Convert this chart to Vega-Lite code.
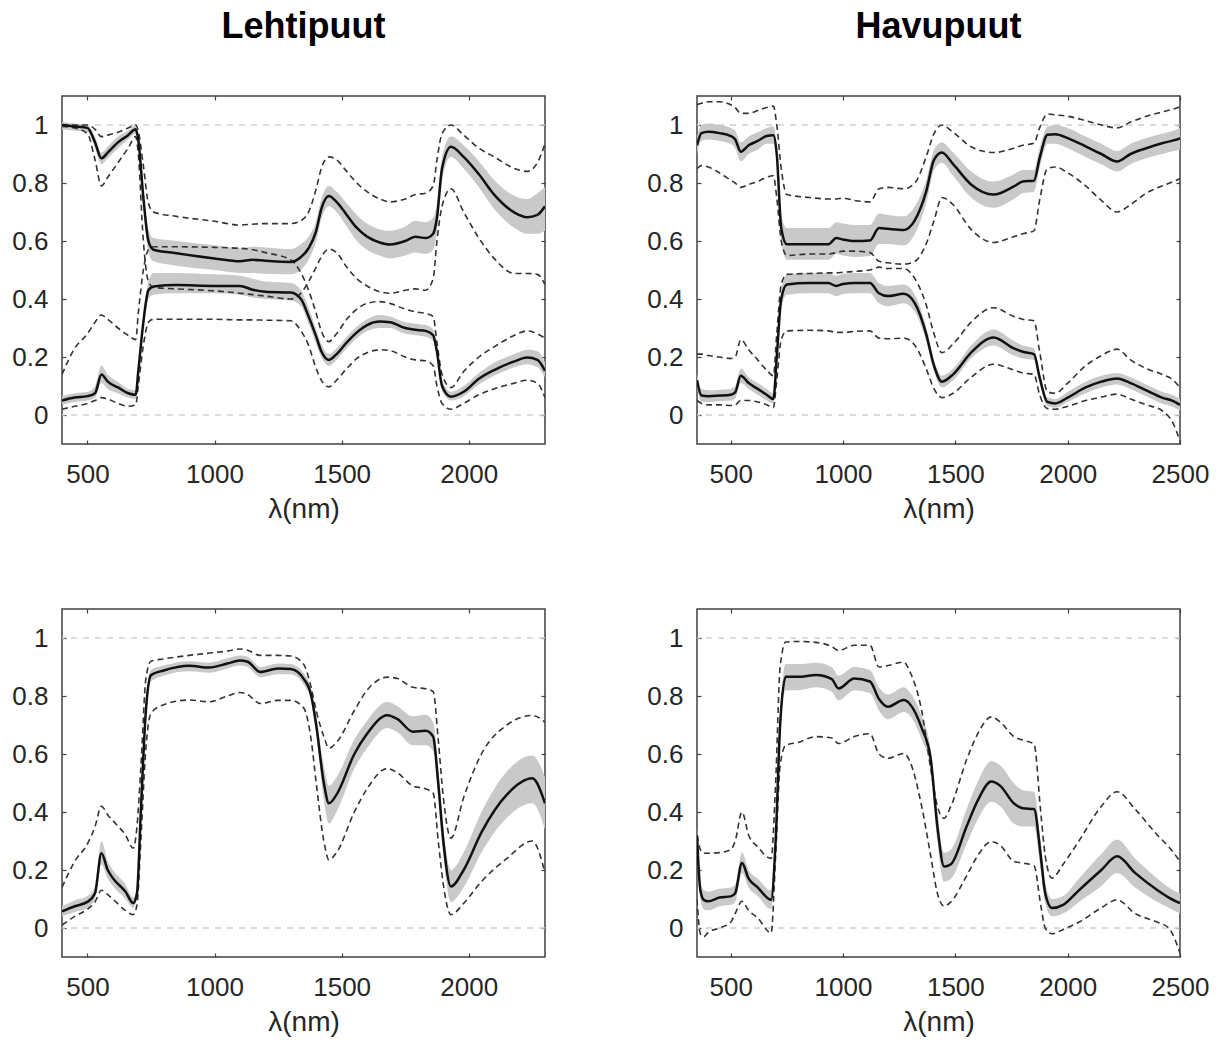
{
  "$schema": "https://vega.github.io/schema/vega-lite/v6.json",
  "background": "white",
  "padding": {"left": 11, "top": 8, "right": 5, "bottom": 5},
  "config": {
    "view": {"stroke": "#404040", "strokeWidth": 1.5},
    "axis": {"domain": false, "grid": false, "tickSize": -4, "tickColor": "#404040", "tickWidth": 1.2, "labelFont": "Liberation Sans", "labelFontSize": 26, "labelColor": "#262626", "labelFlush": false, "labelOverlap": false, "titleFont": "Liberation Sans", "titleFontSize": 28, "titleFontWeight": "normal", "titleColor": "#262626"},
    "axisX": {"labelPadding": 21, "format": "d", "titlePadding": 8},
    "axisY": {"labelPadding": 18, "format": "~g"},
    "title": {"font": "Liberation Sans", "fontSize": 36, "fontWeight": "bold", "color": "#000000", "baseline": "alphabetic", "offset": 49, "anchor": "middle"}
  },
  "datasets": {
    "d": [
      {"p":"TL","c":"u","x":400,"m":1.0,"bl":0.985,"bh":1.01,"dl":0.995,"dh":1.0},
      {"p":"TL","c":"u","x":450,"m":0.995,"bl":0.98,"bh":1.005,"dl":0.99,"dh":1.0},
      {"p":"TL","c":"u","x":500,"m":0.99,"bl":0.975,"bh":1.0,"dl":0.97,"dh":1.0},
      {"p":"TL","c":"u","x":530,"m":0.94,"bl":0.92,"bh":0.96,"dl":0.88,"dh":0.985},
      {"p":"TL","c":"u","x":555,"m":0.885,"bl":0.865,"bh":0.905,"dl":0.79,"dh":0.96},
      {"p":"TL","c":"u","x":580,"m":0.905,"bl":0.885,"bh":0.925,"dl":0.82,"dh":0.965},
      {"p":"TL","c":"u","x":620,"m":0.94,"bl":0.92,"bh":0.96,"dl":0.87,"dh":0.975},
      {"p":"TL","c":"u","x":660,"m":0.965,"bl":0.95,"bh":0.98,"dl":0.92,"dh":0.99},
      {"p":"TL","c":"u","x":690,"m":0.985,"bl":0.97,"bh":1.0,"dl":0.96,"dh":1.0},
      {"p":"TL","c":"u","x":700,"m":0.95,"bl":0.93,"bh":0.97,"dl":0.9,"dh":0.98},
      {"p":"TL","c":"u","x":720,"m":0.75,"bl":0.72,"bh":0.78,"dl":0.6,"dh":0.86},
      {"p":"TL","c":"u","x":740,"m":0.6,"bl":0.56,"bh":0.64,"dl":0.46,"dh":0.73},
      {"p":"TL","c":"u","x":760,"m":0.57,"bl":0.53,"bh":0.61,"dl":0.44,"dh":0.7},
      {"p":"TL","c":"u","x":850,"m":0.558,"bl":0.515,"bh":0.6,"dl":0.435,"dh":0.685},
      {"p":"TL","c":"u","x":1000,"m":0.54,"bl":0.5,"bh":0.585,"dl":0.428,"dh":0.668},
      {"p":"TL","c":"u","x":1100,"m":0.53,"bl":0.49,"bh":0.575,"dl":0.42,"dh":0.655},
      {"p":"TL","c":"u","x":1150,"m":0.535,"bl":0.49,"bh":0.58,"dl":0.415,"dh":0.658},
      {"p":"TL","c":"u","x":1200,"m":0.532,"bl":0.487,"bh":0.578,"dl":0.41,"dh":0.66},
      {"p":"TL","c":"u","x":1300,"m":0.528,"bl":0.485,"bh":0.572,"dl":0.4,"dh":0.66},
      {"p":"TL","c":"u","x":1340,"m":0.545,"bl":0.5,"bh":0.59,"dl":0.42,"dh":0.67},
      {"p":"TL","c":"u","x":1370,"m":0.575,"bl":0.535,"bh":0.615,"dl":0.46,"dh":0.7},
      {"p":"TL","c":"u","x":1400,"m":0.635,"bl":0.6,"bh":0.67,"dl":0.51,"dh":0.78},
      {"p":"TL","c":"u","x":1420,"m":0.71,"bl":0.675,"bh":0.745,"dl":0.545,"dh":0.85},
      {"p":"TL","c":"u","x":1450,"m":0.755,"bl":0.72,"bh":0.79,"dl":0.572,"dh":0.89},
      {"p":"TL","c":"u","x":1480,"m":0.735,"bl":0.7,"bh":0.77,"dl":0.56,"dh":0.88},
      {"p":"TL","c":"u","x":1520,"m":0.69,"bl":0.65,"bh":0.73,"dl":0.51,"dh":0.84},
      {"p":"TL","c":"u","x":1560,"m":0.645,"bl":0.6,"bh":0.69,"dl":0.47,"dh":0.8},
      {"p":"TL","c":"u","x":1600,"m":0.615,"bl":0.57,"bh":0.66,"dl":0.445,"dh":0.77},
      {"p":"TL","c":"u","x":1650,"m":0.595,"bl":0.55,"bh":0.64,"dl":0.425,"dh":0.745},
      {"p":"TL","c":"u","x":1690,"m":0.588,"bl":0.54,"bh":0.635,"dl":0.42,"dh":0.735},
      {"p":"TL","c":"u","x":1750,"m":0.6,"bl":0.55,"bh":0.65,"dl":0.43,"dh":0.745},
      {"p":"TL","c":"u","x":1790,"m":0.615,"bl":0.56,"bh":0.67,"dl":0.435,"dh":0.76},
      {"p":"TL","c":"u","x":1830,"m":0.61,"bl":0.555,"bh":0.665,"dl":0.43,"dh":0.765},
      {"p":"TL","c":"u","x":1860,"m":0.625,"bl":0.57,"bh":0.68,"dl":0.47,"dh":0.79},
      {"p":"TL","c":"u","x":1875,"m":0.68,"bl":0.63,"bh":0.73,"dl":0.6,"dh":0.88},
      {"p":"TL","c":"u","x":1895,"m":0.85,"bl":0.81,"bh":0.89,"dl":0.72,"dh":0.97},
      {"p":"TL","c":"u","x":1930,"m":0.925,"bl":0.89,"bh":0.96,"dl":0.78,"dh":1.0},
      {"p":"TL","c":"u","x":1980,"m":0.89,"bl":0.85,"bh":0.93,"dl":0.7,"dh":0.965},
      {"p":"TL","c":"u","x":2040,"m":0.83,"bl":0.785,"bh":0.875,"dl":0.61,"dh":0.92},
      {"p":"TL","c":"u","x":2100,"m":0.76,"bl":0.71,"bh":0.81,"dl":0.54,"dh":0.89},
      {"p":"TL","c":"u","x":2180,"m":0.698,"bl":0.645,"bh":0.755,"dl":0.488,"dh":0.85},
      {"p":"TL","c":"u","x":2230,"m":0.682,"bl":0.625,"bh":0.745,"dl":0.488,"dh":0.84},
      {"p":"TL","c":"u","x":2270,"m":0.69,"bl":0.625,"bh":0.765,"dl":0.485,"dh":0.87},
      {"p":"TL","c":"u","x":2300,"m":0.72,"bl":0.635,"bh":0.785,"dl":0.45,"dh":0.935},

      {"p":"TL","c":"l","x":400,"m":0.05,"bl":0.035,"bh":0.065,"dl":0.02,"dh":0.14},
      {"p":"TL","c":"l","x":450,"m":0.06,"bl":0.045,"bh":0.075,"dl":0.03,"dh":0.23},
      {"p":"TL","c":"l","x":500,"m":0.065,"bl":0.05,"bh":0.08,"dl":0.04,"dh":0.28},
      {"p":"TL","c":"l","x":530,"m":0.075,"bl":0.06,"bh":0.1,"dl":0.05,"dh":0.32},
      {"p":"TL","c":"l","x":555,"m":0.14,"bl":0.11,"bh":0.17,"dl":0.06,"dh":0.345},
      {"p":"TL","c":"l","x":580,"m":0.115,"bl":0.09,"bh":0.14,"dl":0.055,"dh":0.33},
      {"p":"TL","c":"l","x":620,"m":0.095,"bl":0.075,"bh":0.115,"dl":0.04,"dh":0.3},
      {"p":"TL","c":"l","x":660,"m":0.075,"bl":0.06,"bh":0.09,"dl":0.03,"dh":0.275},
      {"p":"TL","c":"l","x":690,"m":0.07,"bl":0.055,"bh":0.085,"dl":0.035,"dh":0.26},
      {"p":"TL","c":"l","x":700,"m":0.15,"bl":0.13,"bh":0.17,"dl":0.1,"dh":0.35},
      {"p":"TL","c":"l","x":720,"m":0.32,"bl":0.29,"bh":0.35,"dl":0.24,"dh":0.5},
      {"p":"TL","c":"l","x":740,"m":0.43,"bl":0.4,"bh":0.46,"dl":0.32,"dh":0.57},
      {"p":"TL","c":"l","x":760,"m":0.443,"bl":0.415,"bh":0.49,"dl":0.33,"dh":0.58},
      {"p":"TL","c":"l","x":850,"m":0.448,"bl":0.42,"bh":0.49,"dl":0.33,"dh":0.58},
      {"p":"TL","c":"l","x":1000,"m":0.445,"bl":0.42,"bh":0.485,"dl":0.33,"dh":0.578},
      {"p":"TL","c":"l","x":1100,"m":0.445,"bl":0.415,"bh":0.48,"dl":0.328,"dh":0.575},
      {"p":"TL","c":"l","x":1150,"m":0.432,"bl":0.405,"bh":0.47,"dl":0.328,"dh":0.57},
      {"p":"TL","c":"l","x":1200,"m":0.425,"bl":0.4,"bh":0.46,"dl":0.327,"dh":0.56},
      {"p":"TL","c":"l","x":1300,"m":0.422,"bl":0.395,"bh":0.455,"dl":0.325,"dh":0.535},
      {"p":"TL","c":"l","x":1340,"m":0.4,"bl":0.375,"bh":0.43,"dl":0.29,"dh":0.49},
      {"p":"TL","c":"l","x":1370,"m":0.34,"bl":0.315,"bh":0.37,"dl":0.24,"dh":0.43},
      {"p":"TL","c":"l","x":1400,"m":0.27,"bl":0.245,"bh":0.295,"dl":0.16,"dh":0.35},
      {"p":"TL","c":"l","x":1420,"m":0.22,"bl":0.2,"bh":0.245,"dl":0.12,"dh":0.29},
      {"p":"TL","c":"l","x":1450,"m":0.19,"bl":0.17,"bh":0.21,"dl":0.097,"dh":0.253},
      {"p":"TL","c":"l","x":1480,"m":0.21,"bl":0.19,"bh":0.23,"dl":0.12,"dh":0.28},
      {"p":"TL","c":"l","x":1520,"m":0.25,"bl":0.23,"bh":0.27,"dl":0.16,"dh":0.33},
      {"p":"TL","c":"l","x":1560,"m":0.285,"bl":0.265,"bh":0.305,"dl":0.195,"dh":0.365},
      {"p":"TL","c":"l","x":1600,"m":0.31,"bl":0.29,"bh":0.33,"dl":0.215,"dh":0.385},
      {"p":"TL","c":"l","x":1650,"m":0.322,"bl":0.3,"bh":0.345,"dl":0.225,"dh":0.391},
      {"p":"TL","c":"l","x":1690,"m":0.32,"bl":0.3,"bh":0.34,"dl":0.222,"dh":0.385},
      {"p":"TL","c":"l","x":1750,"m":0.3,"bl":0.28,"bh":0.32,"dl":0.2,"dh":0.365},
      {"p":"TL","c":"l","x":1790,"m":0.294,"bl":0.275,"bh":0.315,"dl":0.19,"dh":0.356},
      {"p":"TL","c":"l","x":1830,"m":0.29,"bl":0.27,"bh":0.31,"dl":0.187,"dh":0.35},
      {"p":"TL","c":"l","x":1860,"m":0.275,"bl":0.255,"bh":0.295,"dl":0.17,"dh":0.34},
      {"p":"TL","c":"l","x":1875,"m":0.218,"bl":0.2,"bh":0.24,"dl":0.1,"dh":0.25},
      {"p":"TL","c":"l","x":1895,"m":0.1,"bl":0.085,"bh":0.12,"dl":0.04,"dh":0.14},
      {"p":"TL","c":"l","x":1930,"m":0.063,"bl":0.05,"bh":0.08,"dl":0.02,"dh":0.095},
      {"p":"TL","c":"l","x":1980,"m":0.08,"bl":0.065,"bh":0.1,"dl":0.04,"dh":0.15},
      {"p":"TL","c":"l","x":2040,"m":0.125,"bl":0.105,"bh":0.145,"dl":0.07,"dh":0.2},
      {"p":"TL","c":"l","x":2100,"m":0.155,"bl":0.135,"bh":0.18,"dl":0.09,"dh":0.235},
      {"p":"TL","c":"l","x":2180,"m":0.185,"bl":0.165,"bh":0.21,"dl":0.11,"dh":0.275},
      {"p":"TL","c":"l","x":2230,"m":0.198,"bl":0.175,"bh":0.225,"dl":0.12,"dh":0.29},
      {"p":"TL","c":"l","x":2270,"m":0.19,"bl":0.165,"bh":0.22,"dl":0.11,"dh":0.28},
      {"p":"TL","c":"l","x":2300,"m":0.152,"bl":0.13,"bh":0.18,"dl":0.06,"dh":0.265},

      {"p":"TR","c":"u","x":350,"m":0.93,"bl":0.9,"bh":0.96,"dl":0.85,"dh":1.07},
      {"p":"TR","c":"u","x":370,"m":0.972,"bl":0.945,"bh":1.0,"dl":0.86,"dh":1.075},
      {"p":"TR","c":"u","x":400,"m":0.977,"bl":0.95,"bh":1.005,"dl":0.855,"dh":1.08},
      {"p":"TR","c":"u","x":450,"m":0.972,"bl":0.945,"bh":1.0,"dl":0.835,"dh":1.08},
      {"p":"TR","c":"u","x":500,"m":0.962,"bl":0.935,"bh":0.99,"dl":0.81,"dh":1.07},
      {"p":"TR","c":"u","x":520,"m":0.95,"bl":0.92,"bh":0.98,"dl":0.8,"dh":1.06},
      {"p":"TR","c":"u","x":545,"m":0.908,"bl":0.875,"bh":0.94,"dl":0.785,"dh":1.04},
      {"p":"TR","c":"u","x":580,"m":0.93,"bl":0.9,"bh":0.96,"dl":0.795,"dh":1.04},
      {"p":"TR","c":"u","x":620,"m":0.945,"bl":0.915,"bh":0.975,"dl":0.805,"dh":1.05},
      {"p":"TR","c":"u","x":660,"m":0.962,"bl":0.935,"bh":0.99,"dl":0.82,"dh":1.06},
      {"p":"TR","c":"u","x":690,"m":0.965,"bl":0.935,"bh":0.995,"dl":0.825,"dh":1.065},
      {"p":"TR","c":"u","x":705,"m":0.9,"bl":0.87,"bh":0.93,"dl":0.75,"dh":1.0},
      {"p":"TR","c":"u","x":725,"m":0.645,"bl":0.6,"bh":0.69,"dl":0.6,"dh":0.85},
      {"p":"TR","c":"u","x":750,"m":0.589,"bl":0.535,"bh":0.645,"dl":0.55,"dh":0.76},
      {"p":"TR","c":"u","x":850,"m":0.589,"bl":0.535,"bh":0.645,"dl":0.555,"dh":0.75},
      {"p":"TR","c":"u","x":935,"m":0.589,"bl":0.535,"bh":0.645,"dl":0.555,"dh":0.745},
      {"p":"TR","c":"u","x":970,"m":0.61,"bl":0.555,"bh":0.665,"dl":0.56,"dh":0.745},
      {"p":"TR","c":"u","x":1000,"m":0.605,"bl":0.55,"bh":0.66,"dl":0.565,"dh":0.748},
      {"p":"TR","c":"u","x":1050,"m":0.6,"bl":0.545,"bh":0.655,"dl":0.565,"dh":0.74},
      {"p":"TR","c":"u","x":1120,"m":0.602,"bl":0.548,"bh":0.655,"dl":0.56,"dh":0.735},
      {"p":"TR","c":"u","x":1160,"m":0.645,"bl":0.59,"bh":0.695,"dl":0.53,"dh":0.78},
      {"p":"TR","c":"u","x":1200,"m":0.642,"bl":0.59,"bh":0.69,"dl":0.525,"dh":0.785},
      {"p":"TR","c":"u","x":1270,"m":0.638,"bl":0.585,"bh":0.685,"dl":0.52,"dh":0.78},
      {"p":"TR","c":"u","x":1320,"m":0.672,"bl":0.625,"bh":0.72,"dl":0.53,"dh":0.8},
      {"p":"TR","c":"u","x":1370,"m":0.77,"bl":0.73,"bh":0.81,"dl":0.59,"dh":0.89},
      {"p":"TR","c":"u","x":1405,"m":0.88,"bl":0.845,"bh":0.915,"dl":0.67,"dh":0.97},
      {"p":"TR","c":"u","x":1440,"m":0.905,"bl":0.87,"bh":0.94,"dl":0.75,"dh":1.0},
      {"p":"TR","c":"u","x":1490,"m":0.865,"bl":0.825,"bh":0.905,"dl":0.725,"dh":0.975},
      {"p":"TR","c":"u","x":1570,"m":0.795,"bl":0.75,"bh":0.84,"dl":0.64,"dh":0.925},
      {"p":"TR","c":"u","x":1670,"m":0.76,"bl":0.715,"bh":0.805,"dl":0.595,"dh":0.905},
      {"p":"TR","c":"u","x":1760,"m":0.788,"bl":0.745,"bh":0.83,"dl":0.615,"dh":0.92},
      {"p":"TR","c":"u","x":1800,"m":0.805,"bl":0.765,"bh":0.845,"dl":0.625,"dh":0.93},
      {"p":"TR","c":"u","x":1850,"m":0.808,"bl":0.77,"bh":0.845,"dl":0.635,"dh":0.937},
      {"p":"TR","c":"u","x":1875,"m":0.885,"bl":0.85,"bh":0.92,"dl":0.74,"dh":0.99},
      {"p":"TR","c":"u","x":1910,"m":0.966,"bl":0.935,"bh":0.995,"dl":0.85,"dh":1.038},
      {"p":"TR","c":"u","x":1945,"m":0.968,"bl":0.935,"bh":1.0,"dl":0.855,"dh":1.035},
      {"p":"TR","c":"u","x":2000,"m":0.955,"bl":0.92,"bh":0.99,"dl":0.835,"dh":1.03},
      {"p":"TR","c":"u","x":2080,"m":0.926,"bl":0.89,"bh":0.96,"dl":0.79,"dh":1.015},
      {"p":"TR","c":"u","x":2150,"m":0.9,"bl":0.865,"bh":0.935,"dl":0.74,"dh":1.0},
      {"p":"TR","c":"u","x":2220,"m":0.874,"bl":0.84,"bh":0.91,"dl":0.7,"dh":0.99},
      {"p":"TR","c":"u","x":2280,"m":0.9,"bl":0.865,"bh":0.935,"dl":0.725,"dh":1.01},
      {"p":"TR","c":"u","x":2350,"m":0.92,"bl":0.885,"bh":0.955,"dl":0.765,"dh":1.03},
      {"p":"TR","c":"u","x":2420,"m":0.937,"bl":0.9,"bh":0.97,"dl":0.79,"dh":1.045},
      {"p":"TR","c":"u","x":2470,"m":0.947,"bl":0.91,"bh":0.98,"dl":0.805,"dh":1.055},
      {"p":"TR","c":"u","x":2500,"m":0.954,"bl":0.915,"bh":0.99,"dl":0.815,"dh":1.063},

      {"p":"TR","c":"l","x":350,"m":0.12,"bl":0.095,"bh":0.145,"dl":0.05,"dh":0.21},
      {"p":"TR","c":"l","x":370,"m":0.067,"bl":0.045,"bh":0.09,"dl":0.04,"dh":0.21},
      {"p":"TR","c":"l","x":400,"m":0.065,"bl":0.045,"bh":0.085,"dl":0.035,"dh":0.205},
      {"p":"TR","c":"l","x":450,"m":0.067,"bl":0.047,"bh":0.087,"dl":0.035,"dh":0.2},
      {"p":"TR","c":"l","x":500,"m":0.07,"bl":0.05,"bh":0.09,"dl":0.033,"dh":0.195},
      {"p":"TR","c":"l","x":520,"m":0.078,"bl":0.058,"bh":0.1,"dl":0.035,"dh":0.2},
      {"p":"TR","c":"l","x":545,"m":0.135,"bl":0.11,"bh":0.16,"dl":0.05,"dh":0.26},
      {"p":"TR","c":"l","x":580,"m":0.11,"bl":0.09,"bh":0.13,"dl":0.05,"dh":0.225},
      {"p":"TR","c":"l","x":620,"m":0.09,"bl":0.07,"bh":0.11,"dl":0.045,"dh":0.19},
      {"p":"TR","c":"l","x":660,"m":0.07,"bl":0.05,"bh":0.09,"dl":0.035,"dh":0.155},
      {"p":"TR","c":"l","x":690,"m":0.055,"bl":0.04,"bh":0.075,"dl":0.025,"dh":0.135},
      {"p":"TR","c":"l","x":705,"m":0.2,"bl":0.18,"bh":0.22,"dl":0.12,"dh":0.28},
      {"p":"TR","c":"l","x":725,"m":0.4,"bl":0.37,"bh":0.43,"dl":0.26,"dh":0.45},
      {"p":"TR","c":"l","x":750,"m":0.45,"bl":0.415,"bh":0.485,"dl":0.29,"dh":0.485},
      {"p":"TR","c":"l","x":850,"m":0.455,"bl":0.42,"bh":0.49,"dl":0.292,"dh":0.488},
      {"p":"TR","c":"l","x":935,"m":0.455,"bl":0.42,"bh":0.49,"dl":0.29,"dh":0.49},
      {"p":"TR","c":"l","x":970,"m":0.445,"bl":0.41,"bh":0.48,"dl":0.285,"dh":0.49},
      {"p":"TR","c":"l","x":1000,"m":0.452,"bl":0.417,"bh":0.487,"dl":0.285,"dh":0.492},
      {"p":"TR","c":"l","x":1050,"m":0.455,"bl":0.42,"bh":0.49,"dl":0.288,"dh":0.495},
      {"p":"TR","c":"l","x":1120,"m":0.455,"bl":0.42,"bh":0.49,"dl":0.29,"dh":0.5},
      {"p":"TR","c":"l","x":1160,"m":0.42,"bl":0.385,"bh":0.455,"dl":0.265,"dh":0.51},
      {"p":"TR","c":"l","x":1200,"m":0.41,"bl":0.375,"bh":0.445,"dl":0.263,"dh":0.505},
      {"p":"TR","c":"l","x":1270,"m":0.418,"bl":0.385,"bh":0.45,"dl":0.265,"dh":0.505},
      {"p":"TR","c":"l","x":1320,"m":0.385,"bl":0.355,"bh":0.415,"dl":0.24,"dh":0.47},
      {"p":"TR","c":"l","x":1370,"m":0.28,"bl":0.255,"bh":0.305,"dl":0.16,"dh":0.38},
      {"p":"TR","c":"l","x":1405,"m":0.17,"bl":0.15,"bh":0.19,"dl":0.09,"dh":0.28},
      {"p":"TR","c":"l","x":1440,"m":0.115,"bl":0.095,"bh":0.135,"dl":0.06,"dh":0.215},
      {"p":"TR","c":"l","x":1490,"m":0.14,"bl":0.12,"bh":0.16,"dl":0.075,"dh":0.245},
      {"p":"TR","c":"l","x":1570,"m":0.215,"bl":0.195,"bh":0.24,"dl":0.13,"dh":0.32},
      {"p":"TR","c":"l","x":1670,"m":0.267,"bl":0.24,"bh":0.295,"dl":0.175,"dh":0.37},
      {"p":"TR","c":"l","x":1760,"m":0.23,"bl":0.205,"bh":0.255,"dl":0.155,"dh":0.34},
      {"p":"TR","c":"l","x":1800,"m":0.218,"bl":0.195,"bh":0.24,"dl":0.145,"dh":0.33},
      {"p":"TR","c":"l","x":1850,"m":0.21,"bl":0.19,"bh":0.23,"dl":0.14,"dh":0.325},
      {"p":"TR","c":"l","x":1875,"m":0.13,"bl":0.11,"bh":0.15,"dl":0.07,"dh":0.22},
      {"p":"TR","c":"l","x":1910,"m":0.045,"bl":0.03,"bh":0.06,"dl":0.022,"dh":0.08},
      {"p":"TR","c":"l","x":1945,"m":0.04,"bl":0.025,"bh":0.055,"dl":0.02,"dh":0.075},
      {"p":"TR","c":"l","x":2000,"m":0.06,"bl":0.045,"bh":0.08,"dl":0.03,"dh":0.11},
      {"p":"TR","c":"l","x":2080,"m":0.095,"bl":0.075,"bh":0.115,"dl":0.05,"dh":0.17},
      {"p":"TR","c":"l","x":2150,"m":0.115,"bl":0.095,"bh":0.135,"dl":0.062,"dh":0.205},
      {"p":"TR","c":"l","x":2220,"m":0.126,"bl":0.105,"bh":0.145,"dl":0.072,"dh":0.227},
      {"p":"TR","c":"l","x":2280,"m":0.11,"bl":0.09,"bh":0.13,"dl":0.055,"dh":0.19},
      {"p":"TR","c":"l","x":2350,"m":0.085,"bl":0.065,"bh":0.105,"dl":0.035,"dh":0.16},
      {"p":"TR","c":"l","x":2420,"m":0.06,"bl":0.04,"bh":0.08,"dl":0.015,"dh":0.14},
      {"p":"TR","c":"l","x":2470,"m":0.048,"bl":0.028,"bh":0.068,"dl":-0.03,"dh":0.12},
      {"p":"TR","c":"l","x":2500,"m":0.035,"bl":0.015,"bh":0.055,"dl":-0.09,"dh":0.095},

      {"p":"BL","c":"l","x":400,"m":0.057,"bl":0.04,"bh":0.075,"dl":0.01,"dh":0.14},
      {"p":"BL","c":"l","x":450,"m":0.075,"bl":0.055,"bh":0.095,"dl":0.04,"dh":0.23},
      {"p":"BL","c":"l","x":500,"m":0.09,"bl":0.07,"bh":0.11,"dl":0.065,"dh":0.29},
      {"p":"BL","c":"l","x":530,"m":0.12,"bl":0.1,"bh":0.145,"dl":0.09,"dh":0.35},
      {"p":"BL","c":"l","x":555,"m":0.258,"bl":0.22,"bh":0.3,"dl":0.13,"dh":0.42},
      {"p":"BL","c":"l","x":580,"m":0.2,"bl":0.17,"bh":0.23,"dl":0.115,"dh":0.39},
      {"p":"BL","c":"l","x":600,"m":0.172,"bl":0.145,"bh":0.2,"dl":0.1,"dh":0.37},
      {"p":"BL","c":"l","x":650,"m":0.125,"bl":0.1,"bh":0.15,"dl":0.06,"dh":0.32},
      {"p":"BL","c":"l","x":680,"m":0.086,"bl":0.07,"bh":0.105,"dl":0.046,"dh":0.275},
      {"p":"BL","c":"l","x":695,"m":0.12,"bl":0.1,"bh":0.14,"dl":0.08,"dh":0.35},
      {"p":"BL","c":"l","x":710,"m":0.4,"bl":0.37,"bh":0.43,"dl":0.3,"dh":0.55},
      {"p":"BL","c":"l","x":730,"m":0.75,"bl":0.72,"bh":0.78,"dl":0.62,"dh":0.86},
      {"p":"BL","c":"l","x":750,"m":0.872,"bl":0.85,"bh":0.89,"dl":0.74,"dh":0.92},
      {"p":"BL","c":"l","x":800,"m":0.888,"bl":0.87,"bh":0.905,"dl":0.77,"dh":0.928},
      {"p":"BL","c":"l","x":900,"m":0.904,"bl":0.885,"bh":0.92,"dl":0.786,"dh":0.94},
      {"p":"BL","c":"l","x":980,"m":0.898,"bl":0.88,"bh":0.915,"dl":0.78,"dh":0.948},
      {"p":"BL","c":"l","x":1050,"m":0.912,"bl":0.895,"bh":0.93,"dl":0.8,"dh":0.955},
      {"p":"BL","c":"l","x":1100,"m":0.922,"bl":0.905,"bh":0.94,"dl":0.812,"dh":0.962},
      {"p":"BL","c":"l","x":1130,"m":0.918,"bl":0.9,"bh":0.935,"dl":0.805,"dh":0.958},
      {"p":"BL","c":"l","x":1180,"m":0.883,"bl":0.865,"bh":0.9,"dl":0.774,"dh":0.94},
      {"p":"BL","c":"l","x":1250,"m":0.895,"bl":0.875,"bh":0.912,"dl":0.785,"dh":0.94},
      {"p":"BL","c":"l","x":1300,"m":0.893,"bl":0.875,"bh":0.91,"dl":0.785,"dh":0.938},
      {"p":"BL","c":"l","x":1350,"m":0.86,"bl":0.84,"bh":0.88,"dl":0.76,"dh":0.91},
      {"p":"BL","c":"l","x":1380,"m":0.803,"bl":0.78,"bh":0.825,"dl":0.65,"dh":0.83},
      {"p":"BL","c":"l","x":1400,"m":0.7,"bl":0.67,"bh":0.73,"dl":0.5,"dh":0.75},
      {"p":"BL","c":"l","x":1430,"m":0.5,"bl":0.44,"bh":0.56,"dl":0.3,"dh":0.66},
      {"p":"BL","c":"l","x":1450,"m":0.43,"bl":0.36,"bh":0.49,"dl":0.235,"dh":0.62},
      {"p":"BL","c":"l","x":1480,"m":0.46,"bl":0.4,"bh":0.52,"dl":0.26,"dh":0.64},
      {"p":"BL","c":"l","x":1550,"m":0.6,"bl":0.55,"bh":0.65,"dl":0.4,"dh":0.75},
      {"p":"BL","c":"l","x":1600,"m":0.67,"bl":0.62,"bh":0.715,"dl":0.48,"dh":0.82},
      {"p":"BL","c":"l","x":1680,"m":0.734,"bl":0.69,"bh":0.78,"dl":0.55,"dh":0.865},
      {"p":"BL","c":"l","x":1720,"m":0.72,"bl":0.675,"bh":0.765,"dl":0.535,"dh":0.86},
      {"p":"BL","c":"l","x":1780,"m":0.677,"bl":0.63,"bh":0.73,"dl":0.49,"dh":0.83},
      {"p":"BL","c":"l","x":1830,"m":0.68,"bl":0.63,"bh":0.735,"dl":0.48,"dh":0.825},
      {"p":"BL","c":"l","x":1860,"m":0.66,"bl":0.61,"bh":0.71,"dl":0.465,"dh":0.815},
      {"p":"BL","c":"l","x":1880,"m":0.5,"bl":0.45,"bh":0.55,"dl":0.3,"dh":0.65},
      {"p":"BL","c":"l","x":1900,"m":0.3,"bl":0.25,"bh":0.35,"dl":0.15,"dh":0.45},
      {"p":"BL","c":"l","x":1930,"m":0.143,"bl":0.09,"bh":0.2,"dl":0.046,"dh":0.31},
      {"p":"BL","c":"l","x":1980,"m":0.2,"bl":0.14,"bh":0.26,"dl":0.085,"dh":0.45},
      {"p":"BL","c":"l","x":2050,"m":0.33,"bl":0.26,"bh":0.4,"dl":0.16,"dh":0.6},
      {"p":"BL","c":"l","x":2150,"m":0.46,"bl":0.38,"bh":0.54,"dl":0.24,"dh":0.7},
      {"p":"BL","c":"l","x":2250,"m":0.516,"bl":0.43,"bh":0.595,"dl":0.3,"dh":0.733},
      {"p":"BL","c":"l","x":2300,"m":0.43,"bl":0.34,"bh":0.52,"dl":0.19,"dh":0.71},

      {"p":"BR","c":"l","x":350,"m":0.32,"bl":0.29,"bh":0.35,"dl":0.1,"dh":0.32},
      {"p":"BR","c":"l","x":365,"m":0.13,"bl":0.1,"bh":0.16,"dl":-0.02,"dh":0.27},
      {"p":"BR","c":"l","x":380,"m":0.097,"bl":0.065,"bh":0.13,"dl":-0.03,"dh":0.258},
      {"p":"BR","c":"l","x":400,"m":0.092,"bl":0.06,"bh":0.125,"dl":-0.015,"dh":0.258},
      {"p":"BR","c":"l","x":450,"m":0.105,"bl":0.075,"bh":0.135,"dl":0.0,"dh":0.26},
      {"p":"BR","c":"l","x":500,"m":0.109,"bl":0.08,"bh":0.14,"dl":0.02,"dh":0.27},
      {"p":"BR","c":"l","x":520,"m":0.12,"bl":0.09,"bh":0.15,"dl":0.05,"dh":0.3},
      {"p":"BR","c":"l","x":550,"m":0.224,"bl":0.19,"bh":0.26,"dl":0.092,"dh":0.4},
      {"p":"BR","c":"l","x":580,"m":0.17,"bl":0.14,"bh":0.2,"dl":0.06,"dh":0.32},
      {"p":"BR","c":"l","x":620,"m":0.14,"bl":0.11,"bh":0.17,"dl":0.035,"dh":0.28},
      {"p":"BR","c":"l","x":680,"m":0.097,"bl":0.065,"bh":0.13,"dl":-0.017,"dh":0.24},
      {"p":"BR","c":"l","x":700,"m":0.3,"bl":0.27,"bh":0.33,"dl":0.25,"dh":0.5},
      {"p":"BR","c":"l","x":720,"m":0.7,"bl":0.67,"bh":0.73,"dl":0.56,"dh":0.9},
      {"p":"BR","c":"l","x":745,"m":0.866,"bl":0.82,"bh":0.91,"dl":0.63,"dh":0.986},
      {"p":"BR","c":"l","x":800,"m":0.866,"bl":0.82,"bh":0.91,"dl":0.64,"dh":0.988},
      {"p":"BR","c":"l","x":880,"m":0.872,"bl":0.83,"bh":0.915,"dl":0.66,"dh":0.985},
      {"p":"BR","c":"l","x":950,"m":0.858,"bl":0.815,"bh":0.9,"dl":0.655,"dh":0.97},
      {"p":"BR","c":"l","x":980,"m":0.826,"bl":0.785,"bh":0.87,"dl":0.636,"dh":0.957},
      {"p":"BR","c":"l","x":1050,"m":0.86,"bl":0.82,"bh":0.9,"dl":0.66,"dh":0.975},
      {"p":"BR","c":"l","x":1120,"m":0.85,"bl":0.81,"bh":0.89,"dl":0.67,"dh":0.975},
      {"p":"BR","c":"l","x":1160,"m":0.79,"bl":0.75,"bh":0.83,"dl":0.6,"dh":0.9},
      {"p":"BR","c":"l","x":1200,"m":0.763,"bl":0.72,"bh":0.805,"dl":0.585,"dh":0.905},
      {"p":"BR","c":"l","x":1270,"m":0.786,"bl":0.745,"bh":0.83,"dl":0.602,"dh":0.917},
      {"p":"BR","c":"l","x":1300,"m":0.77,"bl":0.73,"bh":0.81,"dl":0.57,"dh":0.88},
      {"p":"BR","c":"l","x":1350,"m":0.69,"bl":0.65,"bh":0.73,"dl":0.42,"dh":0.75},
      {"p":"BR","c":"l","x":1390,"m":0.585,"bl":0.55,"bh":0.62,"dl":0.25,"dh":0.55},
      {"p":"BR","c":"l","x":1420,"m":0.35,"bl":0.3,"bh":0.4,"dl":0.12,"dh":0.42},
      {"p":"BR","c":"l","x":1450,"m":0.212,"bl":0.16,"bh":0.26,"dl":0.075,"dh":0.378},
      {"p":"BR","c":"l","x":1480,"m":0.22,"bl":0.17,"bh":0.27,"dl":0.09,"dh":0.42},
      {"p":"BR","c":"l","x":1550,"m":0.35,"bl":0.29,"bh":0.41,"dl":0.18,"dh":0.58},
      {"p":"BR","c":"l","x":1600,"m":0.44,"bl":0.375,"bh":0.505,"dl":0.25,"dh":0.67},
      {"p":"BR","c":"l","x":1660,"m":0.505,"bl":0.435,"bh":0.575,"dl":0.298,"dh":0.728},
      {"p":"BR","c":"l","x":1700,"m":0.49,"bl":0.42,"bh":0.56,"dl":0.285,"dh":0.71},
      {"p":"BR","c":"l","x":1760,"m":0.43,"bl":0.36,"bh":0.5,"dl":0.23,"dh":0.66},
      {"p":"BR","c":"l","x":1800,"m":0.413,"bl":0.35,"bh":0.475,"dl":0.224,"dh":0.648},
      {"p":"BR","c":"l","x":1850,"m":0.41,"bl":0.35,"bh":0.47,"dl":0.215,"dh":0.635},
      {"p":"BR","c":"l","x":1880,"m":0.25,"bl":0.2,"bh":0.3,"dl":0.08,"dh":0.4},
      {"p":"BR","c":"l","x":1900,"m":0.12,"bl":0.085,"bh":0.155,"dl":0.0,"dh":0.25},
      {"p":"BR","c":"l","x":1930,"m":0.069,"bl":0.04,"bh":0.1,"dl":-0.02,"dh":0.172},
      {"p":"BR","c":"l","x":1980,"m":0.08,"bl":0.05,"bh":0.11,"dl":-0.005,"dh":0.22},
      {"p":"BR","c":"l","x":2050,"m":0.13,"bl":0.09,"bh":0.17,"dl":0.02,"dh":0.3},
      {"p":"BR","c":"l","x":2150,"m":0.2,"bl":0.145,"bh":0.255,"dl":0.07,"dh":0.42},
      {"p":"BR","c":"l","x":2220,"m":0.247,"bl":0.19,"bh":0.305,"dl":0.097,"dh":0.47},
      {"p":"BR","c":"l","x":2300,"m":0.19,"bl":0.14,"bh":0.24,"dl":0.05,"dh":0.41},
      {"p":"BR","c":"l","x":2400,"m":0.13,"bl":0.09,"bh":0.17,"dl":0.02,"dh":0.32},
      {"p":"BR","c":"l","x":2450,"m":0.105,"bl":0.07,"bh":0.14,"dl":0.0,"dh":0.28},
      {"p":"BR","c":"l","x":2500,"m":0.086,"bl":0.05,"bh":0.12,"dl":-0.086,"dh":0.23}
    ]
  },
  "spacing": 83,
  "vconcat": [
    {
      "spacing": 99,
      "hconcat": [
        {
          "width": 483, "height": 348,
          "title": {"text": "Lehtipuut"},
          "layer": [
            {"data": {"values": [{"ref": 0}, {"ref": 1}]}, "mark": {"type": "rule", "color": "#cfcfcf", "strokeWidth": 1.5, "strokeDash": [6, 6]}, "encoding": {"y": {"field": "ref", "type": "quantitative", "scale": {"domain": [-0.1, 1.1], "nice": false}, "axis": null}}},
            {"data": {"name": "d"}, "transform": [{"filter": "datum.p === 'TL'"}], "mark": {"type": "area", "color": "#c9c9c9", "interpolate": "monotone", "clip": true}, "encoding": {"x": {"field": "x", "type": "quantitative", "scale": {"domain": [400, 2300], "nice": false, "zero": false}, "axis": {"values": [500, 1000, 1500, 2000], "title": "λ(nm)"}}, "y": {"field": "bl", "type": "quantitative", "scale": {"domain": [-0.1, 1.1], "nice": false}, "axis": {"values": [0, 0.2, 0.4, 0.6, 0.8, 1], "title": null}}, "y2": {"field": "bh"}, "detail": {"field": "c"}}},
            {"data": {"name": "d"}, "transform": [{"filter": "datum.p === 'TL'"}], "mark": {"type": "line", "color": "#333333", "strokeWidth": 1.6, "strokeDash": [6, 4], "interpolate": "monotone", "clip": true}, "encoding": {"x": {"field": "x", "type": "quantitative", "axis": null}, "y": {"field": "dl", "type": "quantitative", "axis": null}, "detail": {"field": "c"}}},
            {"data": {"name": "d"}, "transform": [{"filter": "datum.p === 'TL'"}], "mark": {"type": "line", "color": "#333333", "strokeWidth": 1.6, "strokeDash": [6, 4], "interpolate": "monotone", "clip": true}, "encoding": {"x": {"field": "x", "type": "quantitative", "axis": null}, "y": {"field": "dh", "type": "quantitative", "axis": null}, "detail": {"field": "c"}}},
            {"data": {"name": "d"}, "transform": [{"filter": "datum.p === 'TL'"}], "mark": {"type": "line", "color": "#111111", "strokeWidth": 2.5, "interpolate": "monotone", "clip": true}, "encoding": {"x": {"field": "x", "type": "quantitative", "axis": {"orient": "top", "labels": false, "title": null, "values": [500, 1000, 1500, 2000]}}, "y": {"field": "m", "type": "quantitative", "axis": {"orient": "right", "labels": false, "title": null, "values": [0, 0.2, 0.4, 0.6, 0.8, 1]}}, "detail": {"field": "c"}}}
          ],
          "resolve": {"axis": {"x": "independent", "y": "independent"}}
        },
        {
          "width": 483, "height": 348,
          "title": {"text": "Havupuut"},
          "layer": [
            {"data": {"values": [{"ref": 0}, {"ref": 1}]}, "mark": {"type": "rule", "color": "#cfcfcf", "strokeWidth": 1.5, "strokeDash": [6, 6]}, "encoding": {"y": {"field": "ref", "type": "quantitative", "scale": {"domain": [-0.1, 1.1], "nice": false}, "axis": null}}},
            {"data": {"name": "d"}, "transform": [{"filter": "datum.p === 'TR'"}], "mark": {"type": "area", "color": "#c9c9c9", "interpolate": "monotone", "clip": true}, "encoding": {"x": {"field": "x", "type": "quantitative", "scale": {"domain": [350, 2500], "nice": false, "zero": false}, "axis": {"values": [500, 1000, 1500, 2000, 2500], "title": "λ(nm)"}}, "y": {"field": "bl", "type": "quantitative", "scale": {"domain": [-0.1, 1.1], "nice": false}, "axis": {"values": [0, 0.2, 0.4, 0.6, 0.8, 1], "title": null}}, "y2": {"field": "bh"}, "detail": {"field": "c"}}},
            {"data": {"name": "d"}, "transform": [{"filter": "datum.p === 'TR'"}], "mark": {"type": "line", "color": "#333333", "strokeWidth": 1.6, "strokeDash": [6, 4], "interpolate": "monotone", "clip": true}, "encoding": {"x": {"field": "x", "type": "quantitative", "axis": null}, "y": {"field": "dl", "type": "quantitative", "axis": null}, "detail": {"field": "c"}}},
            {"data": {"name": "d"}, "transform": [{"filter": "datum.p === 'TR'"}], "mark": {"type": "line", "color": "#333333", "strokeWidth": 1.6, "strokeDash": [6, 4], "interpolate": "monotone", "clip": true}, "encoding": {"x": {"field": "x", "type": "quantitative", "axis": null}, "y": {"field": "dh", "type": "quantitative", "axis": null}, "detail": {"field": "c"}}},
            {"data": {"name": "d"}, "transform": [{"filter": "datum.p === 'TR'"}], "mark": {"type": "line", "color": "#111111", "strokeWidth": 2.5, "interpolate": "monotone", "clip": true}, "encoding": {"x": {"field": "x", "type": "quantitative", "axis": {"orient": "top", "labels": false, "title": null, "values": [500, 1000, 1500, 2000, 2500]}}, "y": {"field": "m", "type": "quantitative", "axis": {"orient": "right", "labels": false, "title": null, "values": [0, 0.2, 0.4, 0.6, 0.8, 1]}}, "detail": {"field": "c"}}}
          ],
          "resolve": {"axis": {"x": "independent", "y": "independent"}}
        }
      ]
    },
    {
      "spacing": 99,
      "hconcat": [
        {
          "width": 483, "height": 348,
          "layer": [
            {"data": {"values": [{"ref": 0}, {"ref": 1}]}, "mark": {"type": "rule", "color": "#cfcfcf", "strokeWidth": 1.5, "strokeDash": [6, 6]}, "encoding": {"y": {"field": "ref", "type": "quantitative", "scale": {"domain": [-0.1, 1.1], "nice": false}, "axis": null}}},
            {"data": {"name": "d"}, "transform": [{"filter": "datum.p === 'BL'"}], "mark": {"type": "area", "color": "#c9c9c9", "interpolate": "monotone", "clip": true}, "encoding": {"x": {"field": "x", "type": "quantitative", "scale": {"domain": [400, 2300], "nice": false, "zero": false}, "axis": {"values": [500, 1000, 1500, 2000], "title": "λ(nm)"}}, "y": {"field": "bl", "type": "quantitative", "scale": {"domain": [-0.1, 1.1], "nice": false}, "axis": {"values": [0, 0.2, 0.4, 0.6, 0.8, 1], "title": null}}, "y2": {"field": "bh"}, "detail": {"field": "c"}}},
            {"data": {"name": "d"}, "transform": [{"filter": "datum.p === 'BL'"}], "mark": {"type": "line", "color": "#333333", "strokeWidth": 1.6, "strokeDash": [6, 4], "interpolate": "monotone", "clip": true}, "encoding": {"x": {"field": "x", "type": "quantitative", "axis": null}, "y": {"field": "dl", "type": "quantitative", "axis": null}, "detail": {"field": "c"}}},
            {"data": {"name": "d"}, "transform": [{"filter": "datum.p === 'BL'"}], "mark": {"type": "line", "color": "#333333", "strokeWidth": 1.6, "strokeDash": [6, 4], "interpolate": "monotone", "clip": true}, "encoding": {"x": {"field": "x", "type": "quantitative", "axis": null}, "y": {"field": "dh", "type": "quantitative", "axis": null}, "detail": {"field": "c"}}},
            {"data": {"name": "d"}, "transform": [{"filter": "datum.p === 'BL'"}], "mark": {"type": "line", "color": "#111111", "strokeWidth": 2.5, "interpolate": "monotone", "clip": true}, "encoding": {"x": {"field": "x", "type": "quantitative", "axis": {"orient": "top", "labels": false, "title": null, "values": [500, 1000, 1500, 2000]}}, "y": {"field": "m", "type": "quantitative", "axis": {"orient": "right", "labels": false, "title": null, "values": [0, 0.2, 0.4, 0.6, 0.8, 1]}}, "detail": {"field": "c"}}}
          ],
          "resolve": {"axis": {"x": "independent", "y": "independent"}}
        },
        {
          "width": 483, "height": 348,
          "layer": [
            {"data": {"values": [{"ref": 0}, {"ref": 1}]}, "mark": {"type": "rule", "color": "#cfcfcf", "strokeWidth": 1.5, "strokeDash": [6, 6]}, "encoding": {"y": {"field": "ref", "type": "quantitative", "scale": {"domain": [-0.1, 1.1], "nice": false}, "axis": null}}},
            {"data": {"name": "d"}, "transform": [{"filter": "datum.p === 'BR'"}], "mark": {"type": "area", "color": "#c9c9c9", "interpolate": "monotone", "clip": true}, "encoding": {"x": {"field": "x", "type": "quantitative", "scale": {"domain": [350, 2500], "nice": false, "zero": false}, "axis": {"values": [500, 1000, 1500, 2000, 2500], "title": "λ(nm)"}}, "y": {"field": "bl", "type": "quantitative", "scale": {"domain": [-0.1, 1.1], "nice": false}, "axis": {"values": [0, 0.2, 0.4, 0.6, 0.8, 1], "title": null}}, "y2": {"field": "bh"}, "detail": {"field": "c"}}},
            {"data": {"name": "d"}, "transform": [{"filter": "datum.p === 'BR'"}], "mark": {"type": "line", "color": "#333333", "strokeWidth": 1.6, "strokeDash": [6, 4], "interpolate": "monotone", "clip": true}, "encoding": {"x": {"field": "x", "type": "quantitative", "axis": null}, "y": {"field": "dl", "type": "quantitative", "axis": null}, "detail": {"field": "c"}}},
            {"data": {"name": "d"}, "transform": [{"filter": "datum.p === 'BR'"}], "mark": {"type": "line", "color": "#333333", "strokeWidth": 1.6, "strokeDash": [6, 4], "interpolate": "monotone", "clip": true}, "encoding": {"x": {"field": "x", "type": "quantitative", "axis": null}, "y": {"field": "dh", "type": "quantitative", "axis": null}, "detail": {"field": "c"}}},
            {"data": {"name": "d"}, "transform": [{"filter": "datum.p === 'BR'"}], "mark": {"type": "line", "color": "#111111", "strokeWidth": 2.5, "interpolate": "monotone", "clip": true}, "encoding": {"x": {"field": "x", "type": "quantitative", "axis": {"orient": "top", "labels": false, "title": null, "values": [500, 1000, 1500, 2000, 2500]}}, "y": {"field": "m", "type": "quantitative", "axis": {"orient": "right", "labels": false, "title": null, "values": [0, 0.2, 0.4, 0.6, 0.8, 1]}}, "detail": {"field": "c"}}}
          ],
          "resolve": {"axis": {"x": "independent", "y": "independent"}}
        }
      ]
    }
  ]
}
